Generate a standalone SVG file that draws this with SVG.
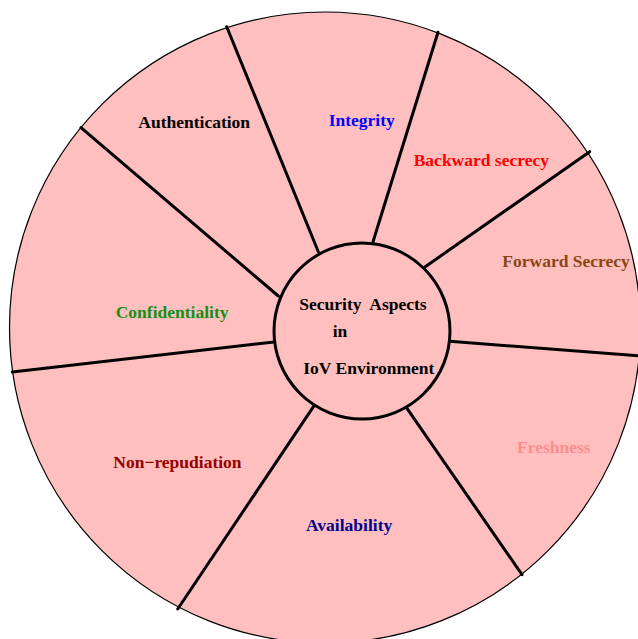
<svg xmlns="http://www.w3.org/2000/svg" width="638" height="639" viewBox="0 0 638 639">
<style>
.lbl{font-family:"Liberation Serif","Times New Roman",serif;font-weight:bold;font-size:17.5px}
.div{stroke:#000;stroke-width:3;stroke-linecap:round}
</style>
<rect width="638" height="639" fill="#fff"/>
<g id="outer">
<circle cx="325" cy="327.5" r="315.5" fill="#ffbfbf" stroke="#000" stroke-width="1.2"/>
</g>
<g id="connectors">
<line class="div" x1="318.3" y1="251.7" x2="226.7" y2="26.7"/>
<line class="div" x1="373" y1="241.7" x2="438" y2="32.3"/>
<line class="div" x1="425.3" y1="266.7" x2="589.7" y2="151.7"/>
<line class="div" x1="449.7" y1="341.3" x2="640" y2="355.8"/>
<line class="div" x1="406.3" y1="407.3" x2="522" y2="574.7"/>
<line class="div" x1="314.3" y1="405.3" x2="177.7" y2="609"/>
<line class="div" x1="274" y1="342" x2="12.3" y2="372"/>
<line class="div" x1="278.3" y1="296" x2="81" y2="127.7"/>
</g>
<g id="center">
<circle cx="362" cy="331" r="88" fill="#ffbfbf" stroke="#000" stroke-width="3"/>
<text class="lbl" x="299.3" y="310" fill="#000" xml:space="preserve">Security  Aspects</text>
<text class="lbl" x="332.7" y="336.7" fill="#000">in</text>
<text class="lbl" x="303.3" y="374" fill="#000">IoV Environment</text>
</g>
<g id="authentication"><text class="lbl" x="138.3" y="128.3" fill="#000">Authentication</text></g>
<g id="integrity"><text class="lbl" x="328.7" y="126" fill="#0000ff">Integrity</text></g>
<g id="backward"><text class="lbl" x="413.7" y="165.7" fill="#ff0000">Backward secrecy</text></g>
<g id="forward"><text class="lbl" x="502.3" y="266.7" fill="#8b4513">Forward Secrecy</text></g>
<g id="freshness"><text class="lbl" x="517" y="453" fill="#ff8c8c">Freshness</text></g>
<g id="availability"><text class="lbl" x="306" y="531.3" fill="#00008b">Availability</text></g>
<g id="nonrep"><text class="lbl" x="113.3" y="468" fill="#990000">Non&#8722;repudiation</text></g>
<g id="confidentiality"><text class="lbl" x="115.7" y="318" fill="#159015">Confidentiality</text></g>
</svg>
